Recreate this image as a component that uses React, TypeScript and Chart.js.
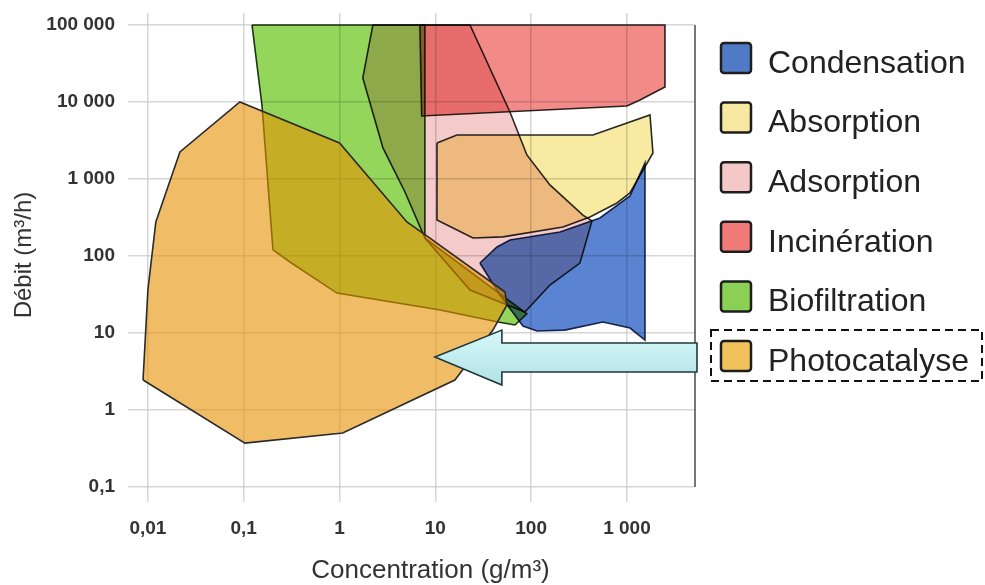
import React, { useEffect, useRef } from 'react';
import { Chart, registerables } from 'chart.js';

// ---- axes ----
const xTicks = [0.01, 0.1, 1, 10, 100, 1000];
const xTickLabels = ['0,01', '0,1', '1', '10', '100', '1 000'];
const yTicks = [0.1, 1, 10, 100, 1000, 10000, 100000];
const yTickLabels = ['0,1', '1', '10', '100', '1 000', '10 000', '100 000'];
const xRange = [0.0062, 5130];
const yRange = [0.1, 143000];
const xTitle = 'Concentration (g/m³)';
const yTitle = 'Débit (m³/h)';

// ---- regions (concentration g/m3, débit m3/h) ----
const photocatalyseX = [0.0089, 0.01, 0.0121, 0.0216, 0.0912, 1.0, 5.05, 8.78, 53.3, 55.9, 39.9, 16.0, 1.08, 0.103, 0.0089];
const photocatalyseY = [2.45, 36.2, 277, 2245, 10000, 2935, 277, 171, 34.0, 23.1, 10.9, 2.45, 0.502, 0.372, 2.45];

const biofiltrationX = [0.122, 7.78, 7.78, 90.3, 67.8, 45.0, 11.2, 0.94, 0.303, 0.202, 0.155, 0.122];
const biofiltrationY = [100000, 100000, 171, 17.7, 12.7, 13.9, 19.9, 33.0, 83.6, 120, 9140, 100000];

const adsorptionX = [2.23, 23.0, 60.1, 90.3, 157, 347, 431, 323, 157, 86.1, 23.0, 7.78, 4.82, 2.84, 1.75, 2.23];
const adsorptionY = [100000, 100000, 7410, 2051, 836, 340, 285, 81, 42.0, 18.7, 36.2, 171, 678, 2530, 20500, 100000];

const incinerationX = [6.9, 2494, 2494, 1368, 1000, 7.2, 6.9];
const incinerationY = [100000, 100000, 15660, 10620, 8870, 6570, 100000];

const absorptionX = [10.4, 16.8, 441, 1740, 1867, 1075, 787, 411, 215, 50.8, 24.7, 10.4, 10.4];
const absorptionY = [2935, 3725, 3725, 6780, 2178, 658, 488, 321, 238, 177, 171, 294, 2935];

const condensationX = [29.2, 44.0, 60.1, 200, 522, 1075, 1542, 1542, 1075, 561, 225, 115, 82.1, 47.2, 29.2];
const condensationY = [81, 131, 161, 205, 312, 601, 1614, 8.1, 11.6, 13.9, 10.9, 10.6, 12.3, 31.2, 81];

// right frame line
const frameX = [5130, 5130];
const frameY = [0.1, 100000];

// arrow pointing at the photocatalyse region
const arrowX = [9.9, 49.5, 49.5, 5380, 5380, 49.5, 49.5];
const arrowY = [4.88, 10.9, 7.41, 7.41, 3.12, 3.12, 2.11];

// ---- legend ----
const legendLabels = ['Condensation', 'Absorption', 'Adsorption', 'Incinération', 'Biofiltration', 'Photocatalyse'];
const legendColors = ['#4f7ac6', '#f6e8a0', '#f4c8c8', '#f07a78', '#8ccf55', '#f2c25a'];
const highlighted = 'Photocatalyse';

const FONT = '"Liberation Sans", Arial, sans-serif';
const GRID = 'rgba(200,200,200,0.75)';

const blendPlugin = {
  id: 'regionBlend',
  beforeDatasetDraw(chart: any, args: any) {
    const ds: any = chart.data.datasets[args.index];
    chart.ctx.globalCompositeOperation = ds && ds.blendMode ? ds.blendMode : 'source-over';
  },
  afterDatasetDraw(chart: any) {
    chart.ctx.globalCompositeOperation = 'source-over';
  },
};

Chart.register(blendPlugin, ...registerables);

const pts = (xs: number[], ys: number[]) => xs.map((x, i) => ({ x, y: ys[i] }));

const region = (label: string, xs: number[], ys: number[], fill: string, line: string, blend: string) => ({
  label,
  data: pts(xs, ys),
  fill: 'shape',
  backgroundColor: fill,
  borderColor: line,
  borderWidth: 1.6,
  pointRadius: 0,
  tension: 0,
  blendMode: blend,
});

const overlayPlugin = {
  id: 'overlay',
  afterDraw(chart: any) {
    const { ctx, chartArea } = chart;
    const sx = chart.scales.x;
    const sy = chart.scales.y;
    ctx.save();

    // arrow
    const ap = arrowX.map((v, i) => [sx.getPixelForValue(v), sy.getPixelForValue(arrowY[i])]);
    const ymin = Math.min(...ap.map((p) => p[1]));
    const ymax = Math.max(...ap.map((p) => p[1]));
    ctx.beginPath();
    ap.forEach((p, i) => (i ? ctx.lineTo(p[0], p[1]) : ctx.moveTo(p[0], p[1])));
    ctx.closePath();
    const g = ctx.createLinearGradient(0, ymin, 0, ymax);
    g.addColorStop(0, '#d6f8f9');
    g.addColorStop(1, '#b2e2e5');
    ctx.fillStyle = g;
    ctx.fill();
    ctx.strokeStyle = '#1f3a3c';
    ctx.lineWidth = 1.6;
    ctx.lineJoin = 'miter';
    ctx.stroke();

    // axis titles
    ctx.fillStyle = '#333';
    ctx.textAlign = 'center';
    ctx.textBaseline = 'middle';
    ctx.font = `26px ${FONT}`;
    ctx.fillText(xTitle, (chartArea.left + chartArea.right) / 2 + 19, chart.height - 14);
    ctx.save();
    ctx.translate(24, (chartArea.top + chartArea.bottom) / 2 + 5);
    ctx.rotate(-Math.PI / 2);
    ctx.font = `24px ${FONT}`;
    ctx.fillText(yTitle, 0, 0);
    ctx.restore();

    // legend
    ctx.font = `32px ${FONT}`;
    ctx.textAlign = 'left';
    legendLabels.forEach((lab, i) => {
      const cy = chartArea.top + 51 + i * 59.6;
      const bx = chartArea.right + 26;
      const by = cy - 21;
      ctx.beginPath();
      if (ctx.roundRect) ctx.roundRect(bx, by, 30, 30, 3);
      else ctx.rect(bx, by, 30, 30);
      ctx.fillStyle = legendColors[i];
      ctx.fill();
      ctx.lineWidth = 2.5;
      ctx.strokeStyle = '#1e1e1e';
      ctx.stroke();
      ctx.fillStyle = '#222';
      ctx.fillText(lab, chartArea.right + 73, cy);
      if (lab === highlighted) {
        ctx.save();
        ctx.setLineDash([8, 5]);
        ctx.lineWidth = 2;
        ctx.strokeStyle = '#111';
        ctx.strokeRect(chartArea.right + 16, cy - 32, 271, 51);
        ctx.restore();
      }
    });
    ctx.restore();
  },
};

export default function App() {
  const ref = useRef<HTMLCanvasElement | null>(null);
  useEffect(() => {
    if (!ref.current) return;
    const datasets: any[] = [
      region('Photocatalyse', photocatalyseX, photocatalyseY, 'rgba(230,145,0,0.6)', '#2a2a2a', 'source-over'),
      region('Condensation', condensationX, condensationY, '#5a84d2', '#1f2d55', 'multiply'),
      region('Absorption', absorptionX, absorptionY, '#f8eaa0', '#2a2a2a', 'multiply'),
      region('Adsorption', adsorptionX, adsorptionY, '#f4caca', '#2a2a2a', 'multiply'),
      region('Incinération', incinerationX, incinerationY, '#f28a88', '#2a2a2a', 'multiply'),
      region('Biofiltration', biofiltrationX, biofiltrationY, '#94d65c', '#22381a', 'multiply'),
      {
        label: 'cadre',
        data: pts(frameX, frameY),
        fill: false,
        borderColor: '#555',
        borderWidth: 1.6,
        pointRadius: 0,
        clip: false,
      },
    ];
    const chart = new Chart(ref.current, {
      type: 'line',
      data: { datasets },
      options: {
        animation: false,
        responsive: true,
        maintainAspectRatio: false,
        events: [],
        layout: { padding: { left: 0, right: 290, top: 13, bottom: 0 } },
        plugins: { legend: { display: false }, tooltip: { enabled: false }, title: { display: false } },
        scales: {
          x: {
            type: 'logarithmic',
            min: xRange[0],
            max: xRange[1],
            z: 1,
            border: { display: false },
            grid: { color: GRID, lineWidth: 1.5, drawTicks: true, tickLength: 15, tickColor: GRID, tickWidth: 1.5 },
            ticks: {
              autoSkip: false,
              maxRotation: 0,
              padding: 15,
              color: '#333',
              font: { family: FONT, size: 19, weight: 'bold' },
              callback: (_v: any, i: number) => xTickLabels[i],
            },
            afterBuildTicks: (s: any) => {
              s.ticks = xTicks.map((v) => ({ value: v }));
            },
            afterFit: (s: any) => {
              s.height = 98;
              s.paddingLeft = 0;
              s.paddingRight = 0;
            },
          },
          y: {
            type: 'logarithmic',
            min: yRange[0],
            max: yRange[1],
            z: 1,
            border: { display: false },
            grid: { color: GRID, lineWidth: 1.5, drawTicks: false },
            ticks: {
              autoSkip: false,
              padding: 13,
              color: '#333',
              font: { family: FONT, size: 19, weight: 'bold' },
              callback: (_v: any, i: number) => yTickLabels[i],
            },
            afterBuildTicks: (s: any) => {
              s.ticks = yTicks.map((v) => ({ value: v }));
            },
            afterFit: (s: any) => {
              s.width = 128;
              s.paddingTop = 0;
              s.paddingBottom = 0;
            },
          },
        },
      } as any,
      plugins: [overlayPlugin as any],
    });
    return () => chart.destroy();
  }, []);
  return (
    <div style={{ position: 'fixed', left: 0, top: 0, width: 985, height: 585, background: '#fff' }}>
      <canvas ref={ref} />
    </div>
  );
}
